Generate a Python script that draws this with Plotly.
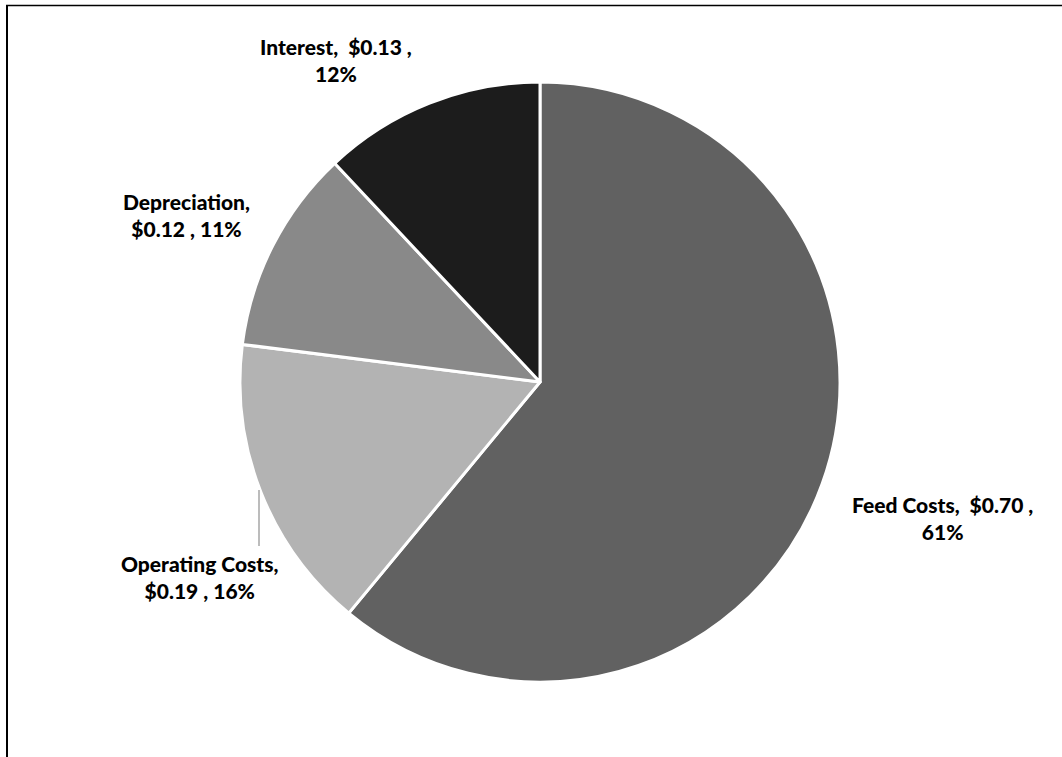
import plotly.graph_objects as go

# Cost breakdown per unit
categories = ["Feed Costs", "Operating Costs", "Depreciation", "Interest"]
dollars = [0.70, 0.19, 0.12, 0.13]
percents = [61, 16, 11, 12]
colors = ["#616161", "#b3b3b3", "#898989", "#1c1c1c"]

W, H = 1062, 757

fig = go.Figure(
    go.Pie(
        labels=categories,
        values=percents,
        sort=False,
        direction="clockwise",
        rotation=0,
        marker=dict(colors=colors, line=dict(color="white", width=3)),
        textinfo="none",
        hoverinfo="label+percent",
        showlegend=False,
        domain=dict(x=[240 / W, 840 / W], y=[(H - 682) / H, (H - 82) / H]),
    )
)

# label text, built from the data arrays
def label(i, layout):
    name, d, p = categories[i], dollars[i], percents[i]
    if layout == "a":
        return f"{name},  ${d:.2f} ,<br>{p}%"
    return f"{name},<br>${d:.2f} , {p}%"

label_pos = {
    0: (942, 518, "a"),
    1: (200, 577, "b"),
    2: (186, 215, "b"),
    3: (336, 60, "a"),
}

annotations = []
for i, (px, py, kind) in label_pos.items():
    annotations.append(
        dict(
            x=px / W, y=1 - py / H, xref="paper", yref="paper",
            text=label(i, kind), showarrow=False,
            font=dict(family="Lato", size=21, color="black", weight=900),
            align="center", xanchor="center", yanchor="middle",
        )
    )

shapes = [
    # chart frame (top and left edges)
    dict(type="line", xref="paper", yref="paper",
         x0=6 / W, x1=1, y0=1 - 5.5 / H, y1=1 - 5.5 / H,
         line=dict(color="black", width=1.5)),
    dict(type="line", xref="paper", yref="paper",
         x0=7 / W, x1=7 / W, y0=0, y1=1 - 5 / H,
         line=dict(color="black", width=2)),
    # leader line for Operating Costs
    dict(type="line", xref="paper", yref="paper",
         x0=259 / W, x1=259 / W, y0=1 - 490 / H, y1=1 - 546 / H,
         line=dict(color="#a6a6a6", width=1.5)),
]

fig.update_layout(
    width=W, height=H,
    margin=dict(l=0, r=0, t=0, b=0),
    paper_bgcolor="white", plot_bgcolor="white",
    annotations=annotations, shapes=shapes,
)

fig.write_html("out.html")
